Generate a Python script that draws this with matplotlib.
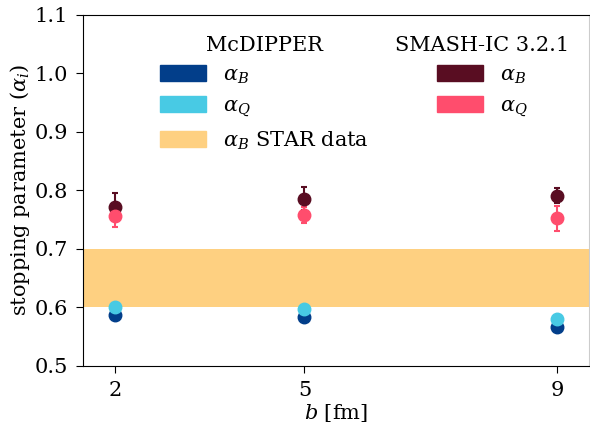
import matplotlib
matplotlib.use("Agg")
import matplotlib.pyplot as plt
from matplotlib.patches import Patch

plt.rcParams['font.family'] = 'DejaVu Serif'
plt.rcParams['mathtext.fontset'] = 'dejavuserif'
plt.rcParams['font.size'] = 15

b = [2, 5, 9]

# McDIPPER
mc_aB = [0.587, 0.583, 0.567]
mc_aQ = [0.601, 0.598, 0.581]

# SMASH-IC 3.2.1
sm_aB = [0.772, 0.786, 0.791]
sm_aB_err = [0.023, 0.020, 0.013]
sm_aQ = [0.756, 0.758, 0.752]
sm_aQ_err = [0.019, 0.014, 0.021]

# STAR band for alpha_B
star_lo, star_hi = 0.6, 0.7

c_mcB = '#023e8a'
c_mcQ = '#48cae4'
c_smB = '#590d22'
c_smQ = '#ff4d6d'
c_star = '#fed081'

fig, ax = plt.subplots(figsize=(5.9, 4.24), dpi=100)
fig.subplots_adjust(left=0.141, right=0.998, top=0.965, bottom=0.137)

ax.axhspan(star_lo, star_hi, color=c_star, lw=0, zorder=0)

ax.plot(b, mc_aB, 'o', color=c_mcB, ms=9, zorder=3)
ax.plot(b, mc_aQ, 'o', color=c_mcQ, ms=9, zorder=3)
ax.errorbar(b, sm_aB, yerr=sm_aB_err, fmt='o', color=c_smB, ms=9,
            elinewidth=1.5, capsize=2, capthick=1.5, zorder=3)
ax.errorbar(b, sm_aQ, yerr=sm_aQ_err, fmt='o', color=c_smQ, ms=9,
            elinewidth=1.5, capsize=2, capthick=1.5, zorder=3)

ax.set_xlim(1.5, 9.5)
ax.set_ylim(0.5, 1.1)
ax.set_xticks(b)
ax.set_yticks([0.5, 0.6, 0.7, 0.8, 0.9, 1.0, 1.1])
ax.tick_params(length=5, labelsize=15, pad=6)
ax.set_xlabel(r'$b$ [fm]', fontsize=15, labelpad=1)
ax.set_ylabel(r'stopping parameter ($\alpha_i$)', fontsize=15, labelpad=2)
ax.spines['right'].set_color('#cccccc')
ax.spines['right'].set_linewidth(0.8)

kw = dict(frameon=False, fontsize=15, title_fontsize=15, handlelength=2.2,
          handleheight=0.8, labelspacing=0.5, handletextpad=0.8,
          borderpad=0, borderaxespad=0, loc='upper left')

h1 = [Patch(color=c_mcB), Patch(color=c_mcQ), Patch(color=c_star)]
l1 = [r'$\alpha_B$', r'$\alpha_Q$', r'$\alpha_B$ STAR data']
leg1 = ax.legend(h1, l1, title='McDIPPER', bbox_to_anchor=(0.152, 0.94), **kw)
ax.add_artist(leg1)

h2 = [Patch(color=c_smB), Patch(color=c_smQ)]
l2 = [r'$\alpha_B$', r'$\alpha_Q$']
ax.legend(h2, l2, title='SMASH-IC 3.2.1', bbox_to_anchor=(0.617, 0.94), **kw)

fig.savefig('out.png', dpi=100)
